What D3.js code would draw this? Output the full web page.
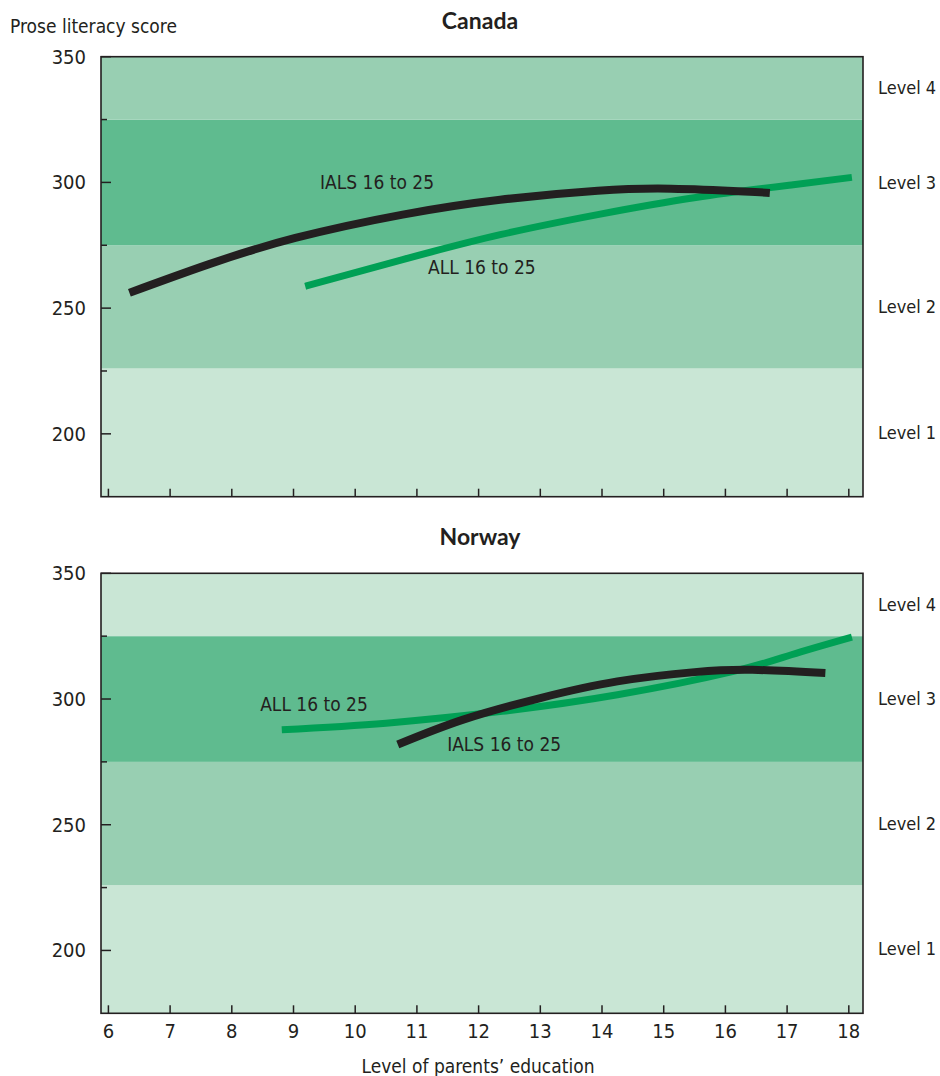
<!DOCTYPE html>
<html>
<head>
<meta charset="utf-8">
<script src="https://cdn.jsdelivr.net/npm/d3@7"></script>
<style>
body { margin: 0; background: #fff; }
text { font-family: "Liberation Sans Narrow", "DejaVu Sans Condensed", Roboto, sans-serif; fill: #231f20; }
.title { font-family: Lato, "Open Sans", sans-serif; font-weight: bold; }
</style>
</head>
<body>
<svg width="940" height="1076"></svg>
<script>
var svg = d3.select("svg");

// score thresholds between literacy levels
var levels = ["Level 1", "Level 2", "Level 3", "Level 4"];
var levelBounds = [175, 226, 275, 325, 350];
var yMajor = [200, 250, 300, 350];
var yMinor = [225, 275, 325];
var xTickValues = [6, 7, 8, 9, 10, 11, 12, 13, 14, 15, 16, 17, 18];

// [parents' education, prose score]
var canadaIALS = [[6.34, 256.1], [7.61, 267.3], [9.03, 277.9], [10.77, 287.2], [12.35, 293.1], [13.93, 296.7], [15.12, 297.5], [16.30, 296.4], [16.72, 295.8]];
var canadaALL = [[9.19, 258.7], [10.77, 269.3], [12.35, 279.2], [13.93, 287.2], [15.52, 294.0], [17.10, 299.1], [18.05, 302.0]];
var norwayIALS = [[10.69, 281.9], [11.75, 291.8], [13.0, 300.4], [14.25, 307.0], [15.50, 310.7], [16.44, 311.6], [17.62, 310.3]];
var norwayALL = [[8.81, 287.8], [10.50, 290.4], [12.38, 295.1], [14.25, 301.7], [16.13, 311.0], [17.07, 317.6], [18.05, 324.6]];

var light = "#c9e6d5", mid = "#98cfb2", dark = "#5fbb8f";

var left = 101, right = 863, panelH = 440;

var x = d3.scaleLinear()
    .domain([5.88, 18.23])
    .range([left, right]);

function drawPanel(top, title, bandColors, series, labels, showXLabels) {
    var g = svg.append("g");
    var y = d3.scaleLinear()
        .domain([175, 350])
        .range([top + panelH, top]);

    g.append("text")
        .attr("class", "title")
        .attr("x", 480)
        .attr("y", top - 28)
        .attr("text-anchor", "middle")
        .style("font-size", "23px")
        .text(title);

    // level bands
    g.selectAll(".band")
        .data(levels)
        .enter().append("rect")
        .attr("x", left)
        .attr("width", right - left)
        .attr("y", (d, i) => y(levelBounds[i + 1]))
        .attr("height", (d, i) => y(levelBounds[i]) - y(levelBounds[i + 1]))
        .style("fill", (d, i) => bandColors[i]);

    g.selectAll(".lvl")
        .data(levels)
        .enter().append("text")
        .attr("x", 878)
        .attr("y", (d, i) => y((levelBounds[i] + levelBounds[i + 1]) / 2))
        .attr("dy", "0.35em")
        .style("font-size", "18px")
        .text(d => d);

    var line = d3.line()
        .x(d => x(d[0]))
        .y(d => y(d[1]))
        .curve(d3.curveNatural);

    series.forEach(s => {
        g.append("path")
            .attr("d", line(s.data))
            .style("fill", "none")
            .style("stroke", s.color)
            .style("stroke-width", s.width);
    });

    labels.forEach(l => {
        g.append("text")
            .attr("x", x(l.at[0]))
            .attr("y", y(l.at[1]))
            .attr("dy", "0.35em")
            .style("font-size", "19px")
            .text(l.text);
    });

    // frame
    g.append("rect")
        .attr("x", left)
        .attr("y", top)
        .attr("width", right - left)
        .attr("height", panelH)
        .style("fill", "none")
        .style("stroke", "#231f20")
        .style("stroke-width", 1.6);

    // y ticks
    g.selectAll(".ymaj")
        .data(yMajor)
        .enter().append("line")
        .attr("x1", left).attr("x2", left + 10)
        .attr("y1", d => y(d)).attr("y2", d => y(d))
        .style("stroke", "#231f20").style("stroke-width", 1.5);
    g.selectAll(".ymin")
        .data(yMinor)
        .enter().append("line")
        .attr("x1", left).attr("x2", left + 6)
        .attr("y1", d => y(d)).attr("y2", d => y(d))
        .style("stroke", "#231f20").style("stroke-width", 1.5);
    g.selectAll(".ylab")
        .data(yMajor)
        .enter().append("text")
        .attr("x", 86)
        .attr("y", d => y(d))
        .attr("dy", "0.35em")
        .attr("text-anchor", "end")
        .style("font-size", "20px")
        .text(d => d);

    // x ticks
    g.selectAll(".xt")
        .data(xTickValues)
        .enter().append("line")
        .attr("x1", d => x(d)).attr("x2", d => x(d))
        .attr("y1", top + panelH).attr("y2", top + panelH - 8)
        .style("stroke", "#231f20").style("stroke-width", 1.5);

    if (showXLabels) {
        g.selectAll(".xlab")
            .data(xTickValues)
            .enter().append("text")
            .attr("x", d => x(d))
            .attr("y", top + panelH + 18)
            .attr("dy", "0.35em")
            .attr("text-anchor", "middle")
            .style("font-size", "20px")
            .text(d => d);
    }
}

svg.append("text")
    .attr("x", 10)
    .attr("y", 33)
    .style("font-size", "19px")
    .text("Prose literacy score");

drawPanel(56.7, "Canada", [light, mid, dark, mid],
    [{data: canadaALL, color: "#00a055", width: 7}, {data: canadaIALS, color: "#231f20", width: 8}],
    [{text: "IALS 16 to 25", at: [9.43, 299.9]}, {text: "ALL 16 to 25", at: [11.18, 266.2]}],
    false);

drawPanel(573.3, "Norway", [light, mid, dark, light],
    [{data: norwayALL, color: "#00a055", width: 7}, {data: norwayIALS, color: "#231f20", width: 8}],
    [{text: "ALL 16 to 25", at: [8.46, 297.8]}, {text: "IALS 16 to 25", at: [11.49, 281.9]}],
    true);

svg.append("text")
    .attr("x", 478)
    .attr("y", 1066)
    .attr("dy", "0.35em")
    .attr("text-anchor", "middle")
    .style("font-size", "19px")
    .text("Level of parents\u2019 education");
</script>
</body>
</html>
